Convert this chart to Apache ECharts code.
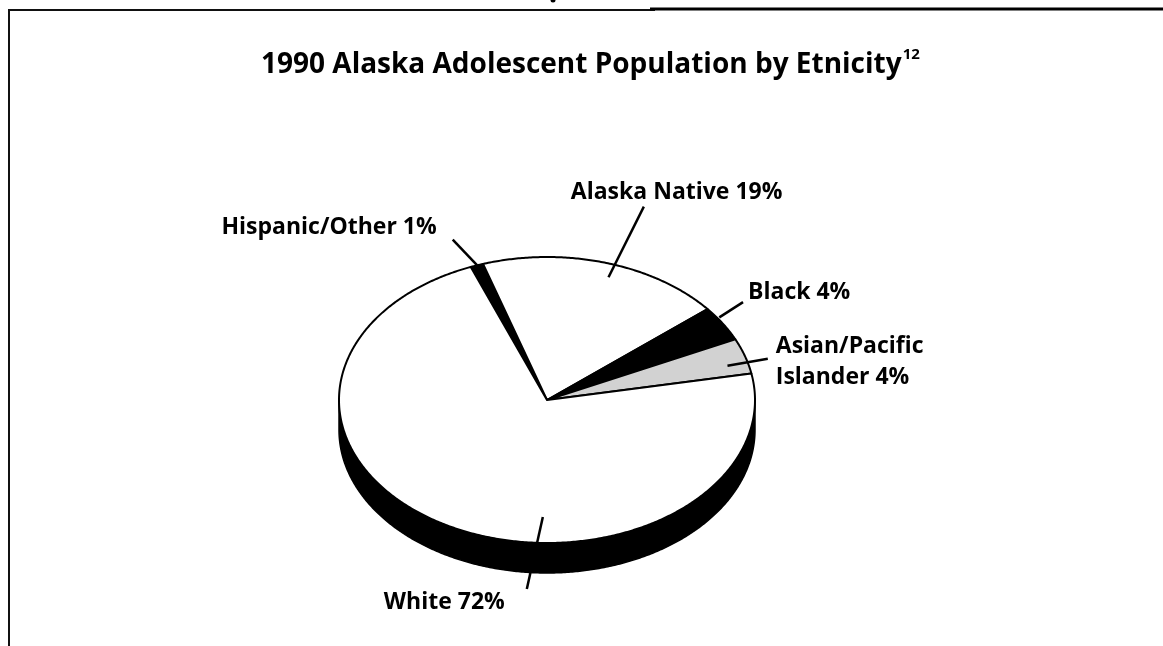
<!DOCTYPE html>
<html>
<head>
<meta charset="utf-8">
<script src="https://cdn.jsdelivr.net/npm/echarts@6/dist/echarts.min.js"></script>
<style>
  html, body { margin: 0; padding: 0; background: #fff; }
  #chart { width: 1163px; height: 646px; }
</style>
</head>
<body>
<div id="chart"></div>
<script>
// ---- data ----
const titleText = '1990 Alaska Adolescent Population by Etnicity';
const titleNote = '12';
const categories = ['Hispanic/Other', 'Alaska Native', 'Black', 'Asian/Pacific Islander', 'White'];
const values = [1, 19, 4, 4, 72];
const labelTexts = ['Hispanic/Other 1%', 'Alaska Native 19%', 'Black 4%', 'Asian/Pacific\nIslander 4%', 'White 72%'];

// ---- styling / layout ----
const sliceColors = ['#000000', '#ffffff', '#000000', '#d2d2d2', '#ffffff'];
const PIE = { cx: 547, cy: 400, rx: 208, ry: 143, depth: 30, startAngle: 111.5 };
const FONT = 'bold 23px "Open Sans", sans-serif';
// leader line: angle (deg, ellipse param), inner/outer radius fraction; label offset from outer end
const leaders = [
  { a1: 109.6, f1: 1.0, a2: 112, f2: 1.21, dx: -16, dy: -12, align: 'right' },
  { a1: 71, f1: 0.908, a2: 71, f2: 1.43, dx: -73, dy: -14, align: 'left' },
  { a1: 34.9, f1: 1.01, a2: 36, f2: 1.165, dx: 5, dy: -10, align: 'left' },
  { a1: 15.4, f1: 0.9, a2: 15.2, f2: 1.1, dx: 8, dy: 3, align: 'left' },
  { a1: -91.4, f1: 0.818, a2: -94.2, f2: 1.325, dx: -22, dy: 13, align: 'right' }
];

const total = values.reduce((s, v) => s + v, 0);
const starts = [];
(function () {
  let a = PIE.startAngle;
  for (let i = 0; i < values.length; i++) { starts.push(a); a -= values[i] / total * 360; }
})();

function pt(tDeg, f, dy) {
  const t = tDeg * Math.PI / 180;
  return [PIE.cx + f * PIE.rx * Math.cos(t), PIE.cy - f * PIE.ry * Math.sin(t) + (dy || 0)];
}
function arc(aFrom, aTo, dy) {
  const pts = [];
  const n = Math.max(2, Math.ceil(Math.abs(aFrom - aTo) / 0.5));
  for (let k = 0; k <= n; k++) pts.push(pt(aFrom + (aTo - aFrom) * k / n, 1, dy));
  return pts;
}

function renderItem(params, api) {
  const i = params.dataIndex;
  const v = api.value(0);
  const a0 = starts[i];
  const a1 = a0 - v / total * 360;
  const children = [];
  // side faces (front half: angle in [-180,0] + 360k)
  for (let k = -2; k <= 2; k++) {
    const lo = Math.max(a1, -180 + 360 * k);
    const hi = Math.min(a0, 0 + 360 * k);
    if (hi - lo > 0.01) {
      const top = arc(hi, lo, 0);
      const bot = arc(lo, hi, PIE.depth);
      children.push({
        type: 'polygon', shape: { points: top.concat(bot) },
        style: { fill: '#000', stroke: '#000', lineWidth: 1.5 }, z2: 1
      });
    }
  }
  // top face
  const pts = [[PIE.cx, PIE.cy]].concat(arc(a0, a1, 0));
  children.push({
    type: 'polygon', shape: { points: pts },
    style: { fill: sliceColors[i], stroke: '#000', lineWidth: 2, lineJoin: 'round' }, z2: 2
  });
  // leader & label
  const L = leaders[i];
  const p1 = pt(L.a1, L.f1), p2 = pt(L.a2, L.f2);
  children.push({
    type: 'line', shape: { x1: p1[0], y1: p1[1], x2: p2[0], y2: p2[1] },
    style: { stroke: '#000', lineWidth: 2.5 }, z2: 10
  });
  children.push({
    type: 'text', z2: 11,
    style: {
      text: labelTexts[i], x: p2[0] + L.dx, y: p2[1] + L.dy,
      align: L.align, verticalAlign: 'middle', font: FONT, fill: '#000', lineHeight: 31
    }
  });
  return { type: 'group', children: children };
}

const chart = echarts.init(document.getElementById('chart'), null, { renderer: 'canvas' });
chart.setOption({
  backgroundColor: '#ffffff',
  animation: false,
  title: {
    text: titleText + '{sup|' + titleNote + '}',
    left: 256, top: 42,
    textStyle: {
      fontFamily: '"Open Sans", sans-serif', fontWeight: 'bold', fontSize: 28, color: '#000', lineHeight: 36,
      rich: { sup: { fontFamily: '"Open Sans", sans-serif', fontWeight: 'bold', fontSize: 15, color: '#000', verticalAlign: 'top', lineHeight: 36, padding: [0, 0, 14, 1] } }
    }
  },
  graphic: [
    { type: 'polyline', shape: { points: [[9, 646], [9, 10], [655, 10]] }, style: { stroke: '#111', lineWidth: 2, fill: null } },
    { type: 'line', shape: { x1: 650, y1: 9, x2: 1163, y2: 9 }, style: { stroke: '#000', lineWidth: 3 } },
    { type: 'circle', shape: { cx: 553, cy: 0, r: 2.5 }, style: { fill: '#000' } }
  ],
  series: [{
    type: 'custom',
    coordinateSystem: 'none',
    renderItem: renderItem,
    data: values.map((v, i) => ({ name: categories[i], value: v }))
  }]
});
</script>
</body>
</html>
